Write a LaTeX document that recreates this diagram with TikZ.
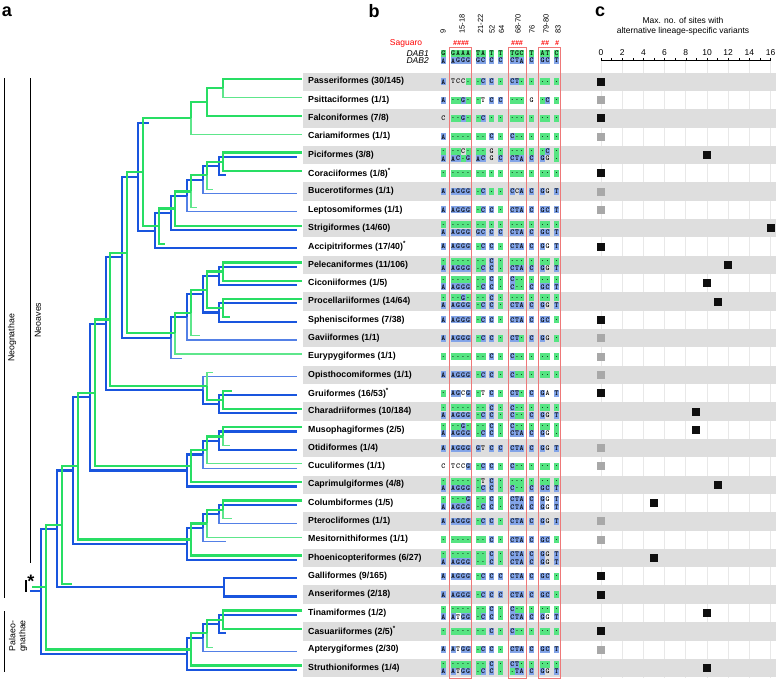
\documentclass[tikz,border=0pt]{standalone}
\usepackage{fontspec}
\setmainfont{Liberation Sans}
\usetikzlibrary{calc}
\definecolor{treegreen}{RGB}{40,222,100}
\definecolor{treeblue}{RGB}{25,85,222}
\definecolor{cellgreen}{RGB}{85,228,130}
\definecolor{cellblue}{RGB}{130,164,232}
\definecolor{bandgray}{RGB}{222,222,222}
\definecolor{boxred}{RGB}{238,120,120}
\definecolor{gridgray}{RGB}{232,232,232}
\definecolor{markgray}{RGB}{168,168,168}
\definecolor{markblack}{RGB}{15,15,15}
\tikzstyle{gline} = [treegreen, line width=2.2pt]
\tikzstyle{gdot} = [treegreen!75!white, line width=1.1pt]
\tikzstyle{bline} = [treeblue, line width=2.2pt]
\tikzstyle{bdot} = [treeblue!75!white, line width=1.1pt]
\tikzstyle{taxon} = [anchor=west, inner sep=0pt, font=\fontsize{8.8}{10}\selectfont\bfseries]
\tikzstyle{seqchar} = [inner sep=0pt, font=\fontsize{7.5}{7.5}\selectfont\ttfamily\bfseries]
\tikzstyle{site} = [inner sep=0pt, minimum size=8pt, fill=markblack]
\tikzstyle{sitegray} = [site, fill=markgray]
\tikzstyle{colhead} = [rotate=90, anchor=west, inner sep=0pt, font=\fontsize{7.5}{8}\selectfont]
\tikzstyle{hashmark} = [inner sep=0pt, text=red, font=\fontsize{7}{7}\selectfont\bfseries\itshape]
\tikzstyle{panel} = [inner sep=0pt, font=\fontsize{18}{18}\selectfont\bfseries]
\tikzstyle{cladename} = [rotate=90, inner sep=0pt, font=\fontsize{8.8}{10}\selectfont]
\tikzstyle{redbox} = [boxred, line width=0.9pt]
\tikzstyle{small} = [inner sep=0pt, font=\fontsize{8.5}{10}\selectfont]

\newcommand{\clade}[4]{\path let \p1=(#3), \p2=(#4) in coordinate (#1) at ({#2pt},{(\y1+\y2)/2});}
\newcount\seqk
\newcount\cellno
\newcommand{\seqline}[3]{\def\seqy{#1}\seqk=0 \seqparse#2\relax#3\relax}
\def\seqparse#1#2\relax#3#4\relax{%
  \advance\seqk by 1
  \global\advance\cellno by 1
  \pgfmathsetmacro{\seqx}{{443.3,453.2,458.2,463.2,468.2,478,483,491.7,500.7,512.3,517,521.7,531.7,542.5,547.5,556.7}[\the\seqk-1]}%
  \if#3g\fill[cellgreen] (\seqx-2.5,\seqy-3.5) rectangle (\seqx+2.5,\seqy+3.5);\fi
  \if#3b\fill[cellblue] (\seqx-2.5,\seqy-3.5) rectangle (\seqx+2.5,\seqy+3.5);\fi
  \node[seqchar] (cell\the\cellno) at (\seqx,\seqy) {#1};
  \ifx\relax#2\relax\else\seqparse#2\relax#4\relax\fi}

\begin{document}
\begin{tikzpicture}[x=1pt,y=-1pt]
\useasboundingbox (0,0) rectangle (778,680);

\foreach \t in {0,2,...,16}
  \draw[gridgray, line width=0.8pt] (601+10.6*\t,60) -- (601+10.6*\t,678);
\foreach \i in {0,2,...,32}
  \fill[bandgray] (303,{81.7+18.32*\i-9.2}) rectangle (776,{81.7+18.32*\i+9.2});

\node[panel] (pa) at (7,12) {a};
\node[panel] (pb) at (374,11) {b};
\node[panel] (pc) at (600,12) {c};

\draw[line width=0.8pt] (4,78) -- (4,598);
\node[cladename] (neognathae) at (12,338) {Neognathae};
\draw[line width=0.8pt] (30,78) -- (30,563);
\node[cladename] (neoaves) at (38,320) {Neoaves};
\draw[line width=0.8pt] (4,611) -- (4,672);
\node[cladename, align=center] (palaeognathae) at (18,636) {Palaeo-\\gnathae};

\node[small, text=red] (saguaro) at (406,43.5) {Saguaro};
\node[small, anchor=east, font=\fontsize{8.5}{10}\selectfont\itshape] (dab1) at (429,53.3) {DAB1};
\node[small, anchor=east, font=\fontsize{8.5}{10}\selectfont\itshape] (dab2) at (429,60.7) {DAB2};
\node[colhead] (h9) at (443,34) {9};
\node[colhead] (h15) at (462,34) {15-18};
\node[colhead] (h21) at (480.5,34) {21-22};
\node[colhead] (h52) at (492,34) {52};
\node[colhead] (h64) at (501.5,34) {64};
\node[colhead] (h68) at (518,34) {68-70};
\node[colhead] (h76) at (532,34) {76};
\node[colhead] (h79) at (546,34) {79-80};
\node[colhead] (h83) at (558,34) {83};
\node[hashmark] (m15) at (461,43.5) {\#\#\#\#};
\node[hashmark] (m68) at (517,43.5) {\#\#\#};
\node[hashmark] (m79) at (545,43.5) {\#\#};
\node[hashmark] (m83) at (557,43.5) {\#};
\seqline{53.3}{GGAAATATTTGCTATC}{gggggggggggggggg}
\seqline{60.7}{AAGGGGCCCCTACGCT}{bbbbbbbbbbbbbbbb}

\node[small, align=center] (ctitle) at (683,26.5) {Max. no. of sites with\\alternative lineage-specific variants};
\draw[line width=0.8pt] (601,60) -- (771,60);
\foreach \t in {0,...,16}
  \draw[line width=0.6pt] (601+10.6*\t,60) -- (601+10.6*\t,57.5);
\foreach \t in {0,2,...,16}
  \node[small] (tick\t) at (601+10.6*\t,52.5) {\t};

\node[taxon] (passeriformes) at (308,81.7) {Passeriformes (30/145)};
\seqline{81.7}{ATCC..CC.CT.....}{bnnnggbbgbbggggg}
\node[site] (passeriformes-c) at (601,81.7) {};
\node[taxon] (psittaciformes) at (308,100.0) {Psittaciformes (1/1)};
\seqline{100.0}{A..G..TCC...G.C.}{bggbggnbbgggngbg}
\node[sitegray] (psittaciformes-c) at (601,100.0) {};
\node[taxon] (falconiformes) at (308,118.3) {Falconiformes (7/8)};
\seqline{118.3}{C..G..C.........}{nggbggbggggggggg}
\node[site] (falconiformes-c) at (601,118.3) {};
\node[taxon] (cariamiformes) at (308,136.7) {Cariamiformes (1/1)};
\seqline{136.7}{A......C.C......}{bggggggbgbgggggg}
\node[sitegray] (cariamiformes-c) at (601,136.7) {};
\node[taxon] (piciformes) at (308,155.0) {Piciformes (3/8)};
\seqline{151.3}{...C...G......C.}{gggngggnggggggbg}
\seqline{158.7}{AAC.GACGCCTACGG.}{bbbgbbbnbbbbbbng}
\node[site] (piciformes-c) at (707,155.0) {};
\node[taxon] (coraciiformes) at (308,173.3) {Coraciiformes (1/8)\textsuperscript{*}};
\seqline{173.3}{................}{gggggggggggggggg}
\node[site] (coraciiformes-c) at (601,173.3) {};
\node[taxon] (bucerotiformes) at (308,191.6) {Bucerotiformes (1/1)};
\seqline{191.6}{AAGGG.C..CCACGGT}{bbbbbgbggbnbbbnb}
\node[sitegray] (bucerotiformes-c) at (601,191.6) {};
\node[taxon] (leptosomiformes) at (308,209.9) {Leptosomiformes (1/1)};
\seqline{209.9}{AAGGG.CC.CTACGCT}{bbbbbgbbgbbbbbbb}
\node[sitegray] (leptosomiformes-c) at (601,209.9) {};
\node[taxon] (strigiformes) at (308,228.3) {Strigiformes (14/60)};
\seqline{224.6}{................}{gggggggggggggggg}
\seqline{232.0}{AAGGGGCCCCTACGCT}{bbbbbbbbbbbbbbbb}
\node[site] (strigiformes-c) at (770.6,228.3) {};
\node[taxon] (accipitriformes) at (308,246.6) {Accipitriformes (17/40)\textsuperscript{*}};
\seqline{246.6}{AAGGG.CC.CTACGGT}{bbbbbgbbgbbbbbnb}
\node[site] (accipitriformes-c) at (601,246.6) {};
\node[taxon] (pelecaniformes) at (308,264.9) {Pelecaniformes (11/106)};
\seqline{261.2}{.......C........}{gggggggbgggggggg}
\seqline{268.6}{AAGGG.CC.CTACGGT}{bbbbbgbbgbbbbbnb}
\node[site] (pelecaniformes-c) at (728.2,264.9) {};
\node[taxon] (ciconiiformes) at (308,283.2) {Ciconiiformes (1/5)};
\seqline{279.5}{.......C.C......}{gggggggbgbgggggg}
\seqline{286.9}{AAGGG.CC.C..CGCT}{bbbbbgbbgbggbbbb}
\node[site] (ciconiiformes-c) at (707,283.2) {};
\node[taxon] (procellariiformes) at (308,301.5) {Procellariiformes (14/64)};
\seqline{297.8}{...G...C........}{gggbgggbgggggggg}
\seqline{305.2}{AAGGG.CC.CTACGGT}{bbbbbgbbgbbbbbnb}
\node[site] (procellariiformes-c) at (717.6,301.5) {};
\node[taxon] (sphenisciformes) at (308,319.9) {Sphenisciformes (7/38)};
\seqline{319.9}{AAGGG.CC.CTACGC.}{bbbbbgbbgbbbbbbg}
\node[site] (sphenisciformes-c) at (601,319.9) {};
\node[taxon] (gaviiformes) at (308,338.2) {Gaviiformes (1/1)};
\seqline{338.2}{AAGGG.CC.CT.CGG.}{bbbbbgbbgbbgbbng}
\node[sitegray] (gaviiformes-c) at (601,338.2) {};
\node[taxon] (eurypygiformes) at (308,356.5) {Eurypygiformes (1/1)};
\seqline{356.5}{.......C.C......}{gggggggbgbgggggg}
\node[sitegray] (eurypygiformes-c) at (601,356.5) {};
\node[taxon] (opisthocomiformes) at (308,374.8) {Opisthocomiformes (1/1)};
\seqline{374.8}{AAGGG.CC.C......}{bbbbbgbbgbgggggg}
\node[sitegray] (opisthocomiformes-c) at (601,374.8) {};
\node[taxon] (gruiformes) at (308,393.1) {Gruiformes (16/53)\textsuperscript{*}};
\seqline{393.1}{.AGCG.TC.CT.CGAT}{gbbnbgnbgbbgbbnb}
\node[site] (gruiformes-c) at (601,393.1) {};
\node[taxon] (charadriiformes) at (308,411.5) {Charadriiformes (10/184)};
\seqline{407.8}{.......C.C......}{gggggggbgbgggggg}
\seqline{415.2}{AAGGG.CC.C..CGGT}{bbbbbgbbgbggbbnb}
\node[site] (charadriiformes-c) at (696.4,411.5) {};
\node[taxon] (musophagiformes) at (308,429.8) {Musophagiformes (2/5)};
\seqline{426.1}{...G...C.C......}{gggbgggbgbgggggg}
\seqline{433.5}{AAGGG.CC.CTACGG.}{bbbbbgbbgbbbbbng}
\node[site] (musophagiformes-c) at (696.4,429.8) {};
\node[taxon] (otidiformes) at (308,448.1) {Otidiformes (1/4)};
\seqline{448.1}{AAGGGGTCCCTACGGT}{bbbbbbnbbbbbbbnb}
\node[sitegray] (otidiformes-c) at (601,448.1) {};
\node[taxon] (cuculiformes) at (308,466.4) {Cuculiformes (1/1)};
\seqline{466.4}{CTCCG.CC.C......}{nnnnbgbbgbgggggg}
\node[sitegray] (cuculiformes-c) at (601,466.4) {};
\node[taxon] (caprimulgiformes) at (308,484.7) {Caprimulgiformes (4/8)};
\seqline{481.0}{......TC........}{ggggggnbgggggggg}
\seqline{488.4}{AAGGG.CC.C..CGCT}{bbbbbgbbgbggbbbb}
\node[site] (caprimulgiformes-c) at (717.6,484.7) {};
\node[taxon] (columbiformes) at (308,503.1) {Columbiformes (1/5)};
\seqline{499.4}{....G..C.CTACGGT}{ggggbggbgbbbbbnb}
\seqline{506.8}{AAGGG.CC.CTACGGT}{bbbbbgbbgbbbbbnb}
\node[site] (columbiformes-c) at (654,503.1) {};
\node[taxon] (pterocliformes) at (308,521.4) {Pterocliformes (1/1)};
\seqline{521.4}{AAGGG.CC.CTACGGT}{bbbbbgbbgbbbbbnb}
\node[sitegray] (pterocliformes-c) at (601,521.4) {};
\node[taxon] (mesitornithiformes) at (308,539.7) {Mesitornithiformes (1/1)};
\seqline{539.7}{.......C.CTACGC.}{gggggggbgbbbbbbg}
\node[sitegray] (mesitornithiformes-c) at (601,539.7) {};
\node[taxon] (phoenicopteriformes) at (308,558.0) {Phoenicopteriformes (6/27)};
\seqline{554.3}{.......C.CTACGGT}{gggggggbgbbbbbnb}
\seqline{561.7}{AAGGG..C.CTACGGT}{bbbbbggbgbbbbbnb}
\node[site] (phoenicopteriformes-c) at (654,558.0) {};
\node[taxon] (galliformes) at (308,576.3) {Galliformes (9/165)};
\seqline{576.3}{AAGGG.CCCCTACGC.}{bbbbbgbbbbbbbbbg}
\node[site] (galliformes-c) at (601,576.3) {};
\node[taxon] (anseriformes) at (308,594.7) {Anseriformes (2/18)};
\seqline{594.7}{AAGGG.CCCCTACGC.}{bbbbbgbbbbbbbbbg}
\node[site] (anseriformes-c) at (601,594.7) {};
\node[taxon] (tinamiformes) at (308,613.0) {Tinamiformes (1/2)};
\seqline{609.3}{.......C.C......}{gggggggbgbgggggg}
\seqline{616.7}{AATGG.CC.CTACGGT}{bbnbbgbbgbbbbbnb}
\node[site] (tinamiformes-c) at (707,613.0) {};
\node[taxon] (casuariiformes) at (308,631.3) {Casuariiformes (2/5)\textsuperscript{*}};
\seqline{631.3}{.......C.C......}{gggggggbgbgggggg}
\node[site] (casuariiformes-c) at (601,631.3) {};
\node[taxon] (apterygiformes) at (308,649.6) {Apterygiformes (2/30)};
\seqline{649.6}{AATGG.CC.CTACGCT}{bbnbbgbbgbbbbbbb}
\node[sitegray] (apterygiformes-c) at (601,649.6) {};
\node[taxon] (struthioniformes) at (308,667.9) {Struthioniformes (1/4)};
\seqline{664.2}{.......C.CT.....}{gggggggbgbbggggg}
\seqline{671.6}{AATGG.CC..TACGGT}{bbnbbgbbggbbbbnb}
\node[site] (struthioniformes-c) at (707,667.9) {};

\draw[redbox] (449.3,47) rectangle (471.7,678);
\draw[redbox] (508.5,47) rectangle (526.7,678);
\draw[redbox] (538.5,47) rectangle (560.8,678);

\foreach \i in {0,...,32} {
  \coordinate (gt\i) at (302,{79.2+18.32*\i});
  \coordinate (bt\i) at (297,{83.5+18.32*\i});
}
\coordinate (gs6) at (213,{79.2+18.32*6});
\coordinate (gs7) at (197,{79.2+18.32*7});
\coordinate (gs9) at (165,{79.2+18.32*9});
\coordinate (gs13) at (230,{79.2+18.32*13});
\coordinate (gs14) at (200,{79.2+18.32*14});
\coordinate (gs16) at (213,{79.2+18.32*16});
\coordinate (gs17) at (232,{79.2+18.32*17});
\coordinate (gs20) at (230,{79.2+18.32*20});
\coordinate (gs24) at (232,{79.2+18.32*24});
\coordinate (gs31) at (213,{79.2+18.32*31});
\coordinate (ggal) at (72,584);
\coordinate (bs5) at (226,{83.5+18.32*5});
\coordinate (bs15) at (182,{83.5+18.32*15});
\coordinate (bs25) at (226,{83.5+18.32*25});
\coordinate (bs30) at (226,{83.5+18.32*30});
\coordinate (baus) at (149,123);

\clade{bF1}{219}{bt4}{bs5}
\clade{bF2}{203}{bF1}{bt6}
\clade{bF3}{187}{bF2}{bt7}
\clade{bF4}{171}{bF3}{bt8}
\clade{bF5}{155}{bF4}{bt9}
\clade{bT}{138}{baus}{bF5}
\clade{bW1}{219}{bt10}{bt11}
\clade{bW2}{219}{bt12}{bt13}
\clade{bW3}{203}{bW1}{bW2}
\clade{bW4}{187}{bW3}{bt14}
\clade{bW5}{171}{bW4}{bs15}
\clade{bP1}{122}{bT}{bW5}
\clade{bO1}{219}{bt17}{bt18}
\clade{bO2}{203}{bt16}{bO1}
\clade{bP2}{106}{bP1}{bO2}
\clade{bC1}{219}{bt19}{bt20}
\clade{bC2}{203}{bC1}{bt21}
\clade{bC3}{187}{bC2}{bt22}
\clade{bP3}{90}{bP2}{bC3}
\clade{bM1}{219}{bt23}{bt24}
\clade{bM2}{203}{bM1}{bs25}
\clade{bM3}{187}{bM2}{bt26}
\clade{bN}{73}{bP3}{bM3}
\clade{bG}{224}{bt27}{bt28}
\clade{bNg}{57}{bN}{bG}
\clade{bL1}{219}{bt29}{bs30}
\clade{bL2}{203}{bL1}{bt31}
\clade{bL3}{187}{bL2}{bt32}
\clade{bR}{41}{bNg}{bL3}
\coordinate (broot) at ([xshift=-11pt]bR);

\draw[bline] (bF1) |- (bt4) (bF1) |- (bs5);
\draw[bline] (bF2) |- (bF1);
\draw[bdot] (bF2) |- (bt6);
\draw[bline] (bF3) |- (bF2);
\draw[bdot] (bF3) |- (bt7);
\draw[bline] (bF4) |- (bF3) (bF4) |- (bt8);
\draw[bline] (bF5) |- (bF4) (bF5) |- (bt9);
\draw[bline] (bT) |- (baus) (bT) |- (bF5);
\draw[bline] (bW1) |- (bt10) (bW1) |- (bt11);
\draw[bline] (bW2) |- (bt12) (bW2) |- (bt13);
\draw[bline] (bW3) |- (bW1) (bW3) |- (bW2);
\draw[bline] (bW4) |- (bW3);
\draw[bdot] (bW4) |- (bt14);
\draw[bline] (bW5) |- (bW4);
\draw[bdot] (bW5) |- (bs15);
\draw[bline] (bP1) |- (bT) (bP1) |- (bW5);
\draw[bline] (bO1) |- (bt17) (bO1) |- (bt18);
\draw[bline] (bO2) |- (bO1);
\draw[bdot] (bO2) |- (bt16);
\draw[bline] (bP2) |- (bP1) (bP2) |- (bO2);
\draw[bline] (bC1) |- (bt19) (bC1) |- (bt20);
\draw[bline] (bC2) |- (bC1);
\draw[bdot] (bC2) |- (bt21);
\draw[bline] (bC3) |- (bC2) (bC3) |- (bt22);
\draw[bline] (bP3) |- (bP2) (bP3) |- (bC3);
\draw[bline] (bM1) |- (bt23);
\draw[bdot] (bM1) |- (bt24);
\draw[bline] (bM2) |- (bM1);
\draw[bdot] (bM2) |- (bs25);
\draw[bline] (bM3) |- (bM2) (bM3) |- (bt26);
\draw[bline] (bN) |- (bP3) (bN) |- (bM3);
\draw[bline] (bG) |- (bt27) (bG) |- (bt28);
\draw[bline] (bNg) |- (bN) (bNg) |- (bG);
\draw[bline] (bL1) |- (bt29) (bL1) |- (bs30);
\draw[bline] (bL2) |- (bL1);
\draw[bdot] (bL2) |- (bt31);
\draw[bline] (bL3) |- (bL2) (bL3) |- (bt32);
\draw[bline] (bR) |- (bNg) (bR) |- (bL3);
\draw[bline] (bR) -- (broot);

\clade{gA1}{223}{gt0}{gt1}
\clade{gA2}{207}{gA1}{gt2}
\clade{gA3}{191}{gA2}{gt3}
\clade{gF1}{223}{gt4}{gt5}
\clade{gF2}{207}{gF1}{gs6}
\clade{gF3}{191}{gF2}{gs7}
\clade{gF4}{175}{gF3}{gt8}
\clade{gF5}{159}{gF4}{gs9}
\clade{gT}{143}{gA3}{gF5}
\clade{gW1}{223}{gt10}{gt11}
\clade{gW2}{223}{gt12}{gs13}
\clade{gW3}{207}{gW1}{gW2}
\clade{gW4}{191}{gW3}{gs14}
\clade{gW5}{175}{gW4}{gt15}
\clade{gP1}{127}{gT}{gW5}
\clade{gO1}{223}{gs17}{gt18}
\clade{gO2}{207}{gs16}{gO1}
\clade{gP2}{110}{gP1}{gO2}
\clade{gC1}{223}{gt19}{gs20}
\clade{gC2}{207}{gC1}{gt21}
\clade{gC3}{191}{gC2}{gt22}
\clade{gP3}{95}{gP2}{gC3}
\clade{gM1}{223}{gt23}{gs24}
\clade{gM2}{207}{gM1}{gt25}
\clade{gM3}{191}{gM2}{gt26}
\clade{gN}{78}{gP3}{gM3}
\clade{gNg}{62}{gN}{ggal}
\clade{gL1}{223}{gt29}{gt30}
\clade{gL2}{207}{gL1}{gs31}
\clade{gL3}{191}{gL2}{gt32}
\clade{gR}{46}{gNg}{gL3}
\coordinate (groot) at ([xshift=-14pt]gR);

\draw[gline] (gA1) |- (gt0);
\draw[gdot] (gA1) |- (gt1);
\draw[gline] (gA2) |- (gA1) (gA2) |- (gt2);
\draw[gline] (gA3) |- (gA2);
\draw[gdot] (gA3) |- (gt3);
\draw[gline] (gF1) |- (gt4) (gF1) |- (gt5);
\draw[gline] (gF2) |- (gF1);
\draw[gdot] (gF2) |- (gs6);
\draw[gline] (gF3) |- (gF2);
\draw[gdot] (gF3) |- (gs7);
\draw[gline] (gF4) |- (gF3) (gF4) |- (gt8);
\draw[gline] (gF5) |- (gF4) (gF5) |- (gs9);
\draw[gline] (gT) |- (gA3) (gT) |- (gF5);
\draw[gline] (gW1) |- (gt10) (gW1) |- (gt11);
\draw[gline] (gW2) |- (gt12) (gW2) |- (gs13);
\draw[gline] (gW3) |- (gW1) (gW3) |- (gW2);
\draw[gline] (gW4) |- (gW3);
\draw[gdot] (gW4) |- (gs14);
\draw[gline] (gW5) |- (gW4);
\draw[gdot] (gW5) |- (gt15);
\draw[gline] (gP1) |- (gT) (gP1) |- (gW5);
\draw[gline] (gO1) |- (gs17) (gO1) |- (gt18);
\draw[gline] (gO2) |- (gO1);
\draw[gdot] (gO2) |- (gs16);
\draw[gline] (gP2) |- (gP1) (gP2) |- (gO2);
\draw[gline] (gC1) |- (gt19);
\draw[gdot] (gC1) |- (gs20);
\draw[gline] (gC2) |- (gC1);
\draw[gdot] (gC2) |- (gt21);
\draw[gline] (gC3) |- (gC2) (gC3) |- (gt22);
\draw[gline] (gP3) |- (gP2) (gP3) |- (gC3);
\draw[gline] (gM1) |- (gt23);
\draw[gdot] (gM1) |- (gs24);
\draw[gline] (gM2) |- (gM1);
\draw[gdot] (gM2) |- (gt25);
\draw[gline] (gM3) |- (gM2) (gM3) |- (gt26);
\draw[gline] (gN) |- (gP3) (gN) |- (gM3);
\draw[gline] (gNg) |- (gN) (gNg) |- (ggal);
\draw[gline] (gL1) |- (gt29) (gL1) |- (gt30);
\draw[gline] (gL2) |- (gL1);
\draw[gdot] (gL2) |- (gs31);
\draw[gline] (gL3) |- (gL2) (gL3) |- (gt32);
\draw[gline] (gR) |- (gNg) (gR) |- (gL3);
\draw[gline] (gR) -- (groot);

\draw[line width=2pt] (26,580) -- (26,592);
\node[inner sep=0pt, font=\fontsize{18}{18}\selectfont\bfseries] (star) at (31,581) {*};
\end{tikzpicture}
\end{document}
